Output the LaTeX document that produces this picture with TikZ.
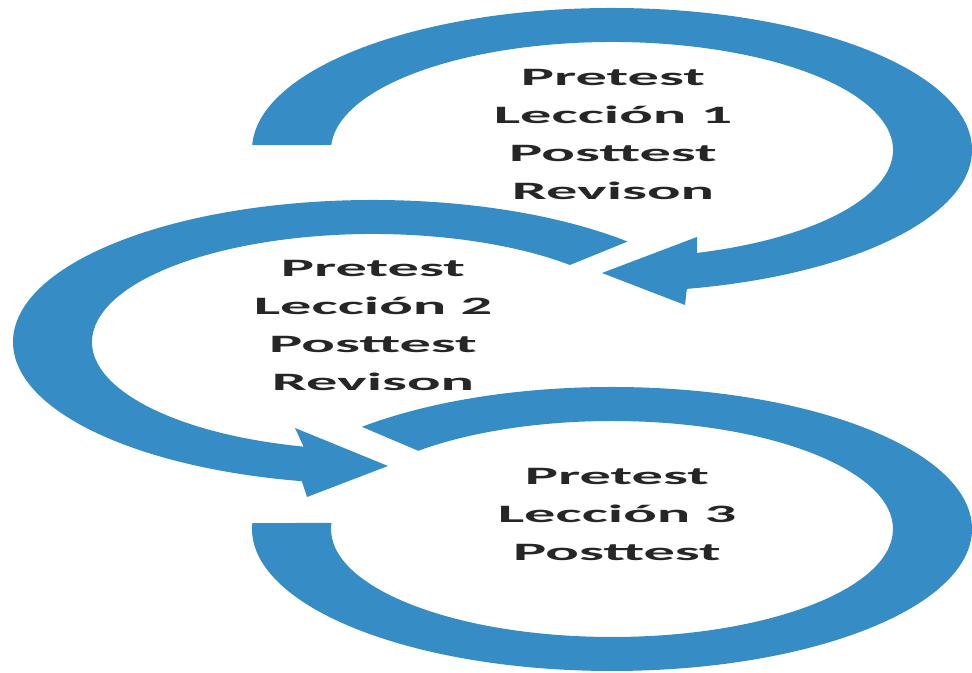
\documentclass[tikz,border=0pt]{standalone}
\usepackage{fontspec}
\setmainfont{Carlito}
\usetikzlibrary{calc}
\definecolor{arcblue}{RGB}{54,140,196}
\tikzset{
  band/.style={fill=arcblue, draw=none},
  lbl/.style={align=center, font=\fontsize{18.75pt}{28.5pt}\selectfont\bfseries,
              text=black!85, inner sep=0pt, xscale=2.5, transform shape}
}
\begin{document}
\begin{tikzpicture}[x=0.75pt, y=0.75pt]
\useasboundingbox (0,0) rectangle (972,673);
% centres
\coordinate (c1) at (612,523);
\coordinate (c2) at (373,331);
\coordinate (c3) at (612,144);
% arrow 1 (top), clockwise, head pointing left
\fill[band] ($(c1)+(178:360 and 142)$)
  arc[start angle=178, end angle=-78, x radius=360, y radius=142]
  -- (685,368) -- (602,400) -- (697,436)
  -- ($(c1)+(-72.4:281 and 108)$)
  arc[start angle=-72.4, end angle=177.35, x radius=281, y radius=108]
  -- cycle;
% arrow 2 (middle), counter-clockwise, head pointing right
\fill[band] ($(c2)+(45:360 and 142)$)
  arc[start angle=45, end angle=258.6, x radius=360, y radius=142]
  -- (307,176) -- (388,207) -- (295,245)
  -- ($(c2)+(255.7:281 and 108)$)
  arc[start angle=255.7, end angle=45.5, x radius=281, y radius=108]
  -- cycle;
% arc 3 (bottom), clockwise, no head
\fill[band] ($(c3)+(134:360 and 142)$)
  arc[start angle=134, end angle=-182.4, x radius=360, y radius=142]
  -- ($(c3)+(-183.2:281 and 108)$)
  arc[start angle=-183.2, end angle=133.6, x radius=281, y radius=108]
  -- cycle;
% labels
\node[lbl] (t1) at (613,539) {Pretest\\Lección 1\\Posttest\\Revison};
\node[lbl] (t2) at (373,348) {Pretest\\Lección 2\\Posttest\\Revison};
\node[lbl] (t3) at (617,159) {Pretest\\Lección 3\\Posttest};
\end{tikzpicture}
\end{document}
